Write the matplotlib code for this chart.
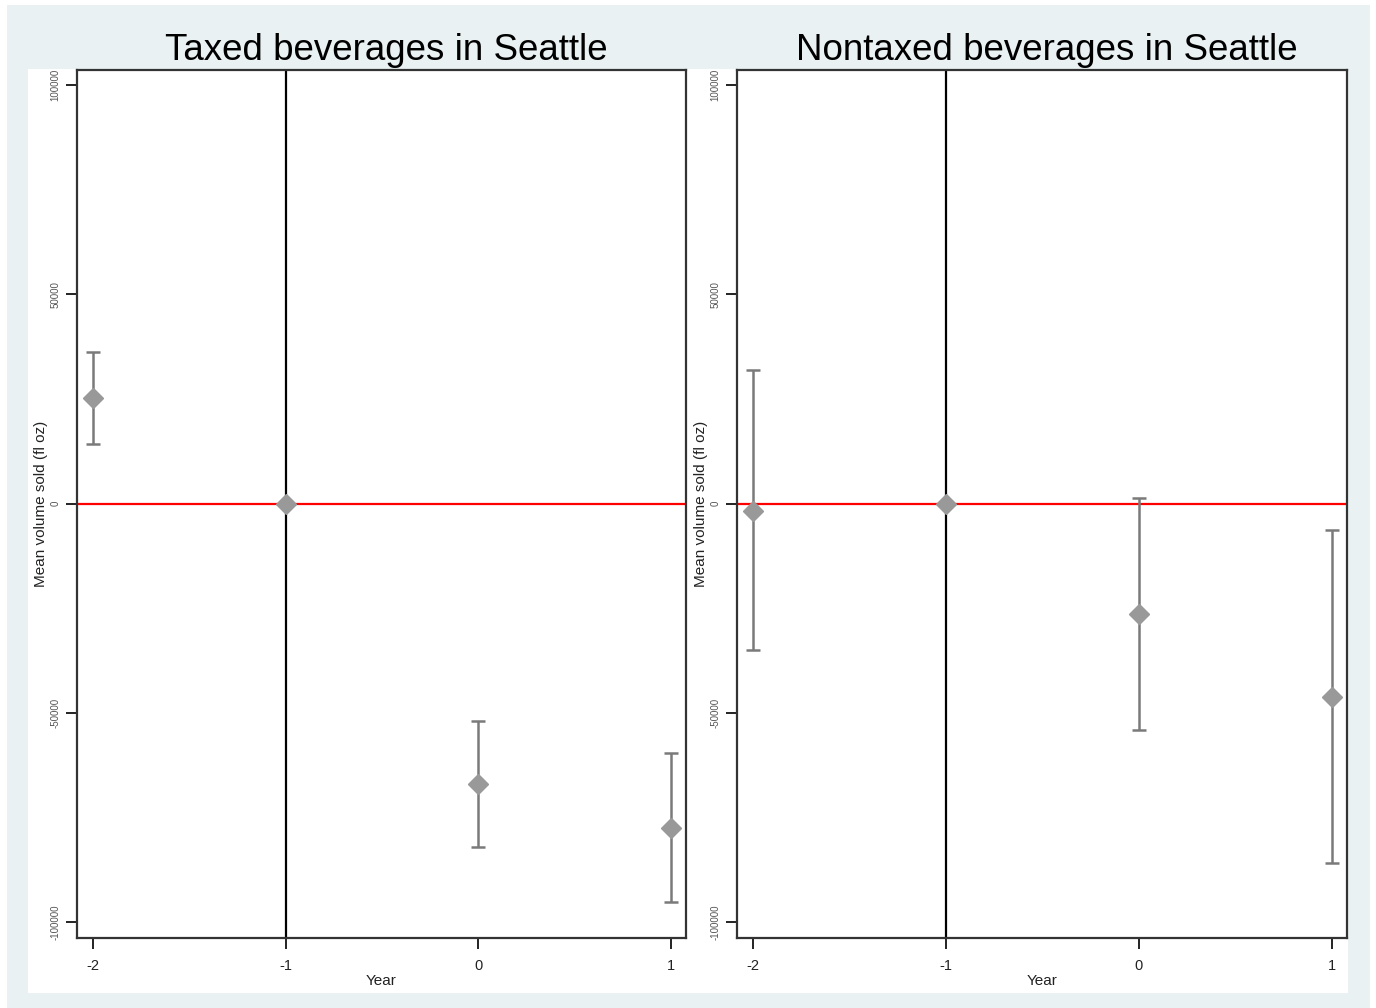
import matplotlib
matplotlib.use("Agg")
import matplotlib.pyplot as plt
from matplotlib.patches import Rectangle

plt.rcParams['font.family'] = ['Liberation Sans', 'DejaVu Sans']

years = [-2, -1, 0, 1]
titles = ["Taxed beverages in Seattle", "Nontaxed beverages in Seattle"]

taxed_est = [25300, 0, -66900, -77400]
taxed_lo = [14300, 0, -82000, -95100]
taxed_hi = [36300, 0, -51900, -59500]

nontaxed_est = [-1700, 0, -26500, -46100]
nontaxed_lo = [-35100, 0, -54200, -85800]
nontaxed_hi = [32000, 0, 1400, -6200]

yticks = [-100000, -50000, 0, 50000, 100000]
xticks = [-2, -1, 0, 1]

W, H = 1376, 1008
fig = plt.figure(figsize=(W / 100, H / 100), dpi=100, facecolor='white')

# slide background and white graph region
fig.patches.append(Rectangle((7 / W, 0), 1363 / W, 1 - 5 / H, transform=fig.transFigure,
                             facecolor='#e9f1f3', edgecolor='none', zorder=-10))
fig.patches.append(Rectangle((28 / W, 1 - 993 / H), 1320 / W, 924 / H, transform=fig.transFigure,
                             facecolor='white', edgecolor='none', zorder=-9))

panels = [
    (77, 686, taxed_est, taxed_lo, taxed_hi),
    (737, 1347, nontaxed_est, nontaxed_lo, nontaxed_hi),
]

for i, (x0, x1, est, lo, hi) in enumerate(panels):
    ax = fig.add_axes([x0 / W, 1 - 938 / H, (x1 - x0) / W, 868 / H])
    ax.set_facecolor('white')
    ax.set_xlim(-2.083, 1.08)
    ax.set_ylim(-103800, 103600)
    ax.axhline(0, color='#ff0000', lw=1.6, zorder=2)
    ax.axvline(-1, color='black', lw=1.6, zorder=2)
    yerr = [[e - l for e, l in zip(est, lo)], [h - e for e, h in zip(est, hi)]]
    ax.errorbar(years, est, yerr=yerr, fmt='none', ecolor='#7a7a7a', elinewidth=1.8,
                capsize=4.7, capthick=1.8, zorder=3)
    ax.plot(years, est, linestyle='none', marker='D', markersize=10.5,
            color='#999999', markeredgecolor='#999999', zorder=4)
    ax.set_xticks(xticks)
    ax.set_xticklabels([str(t) for t in xticks], fontsize=10.5, color='#222222')
    ax.set_yticks(yticks)
    ax.set_yticklabels([str(t) for t in yticks], fontsize=7, color='#555555',
                       rotation=90, va='center')
    ax.tick_params(axis='both', direction='out', length=8, width=1.4, color='#222222')
    ax.tick_params(axis='y', pad=4)
    ax.tick_params(axis='x', pad=7)
    for s in ax.spines.values():
        s.set_color('#333333')
        s.set_linewidth(1.6)
    ax.set_xlabel('Year', fontsize=11, color='#222222', labelpad=1)
    ax.set_ylabel('Mean volume sold (fl oz)', fontsize=11, color='#222222', labelpad=2)
    fig.text(((x0 + x1) / 2 + 5) / W, 1 - 50 / H, titles[i], fontsize=26.5,
             ha='center', va='center', color='black')

fig.savefig('out.png', dpi=100, facecolor=fig.get_facecolor())
